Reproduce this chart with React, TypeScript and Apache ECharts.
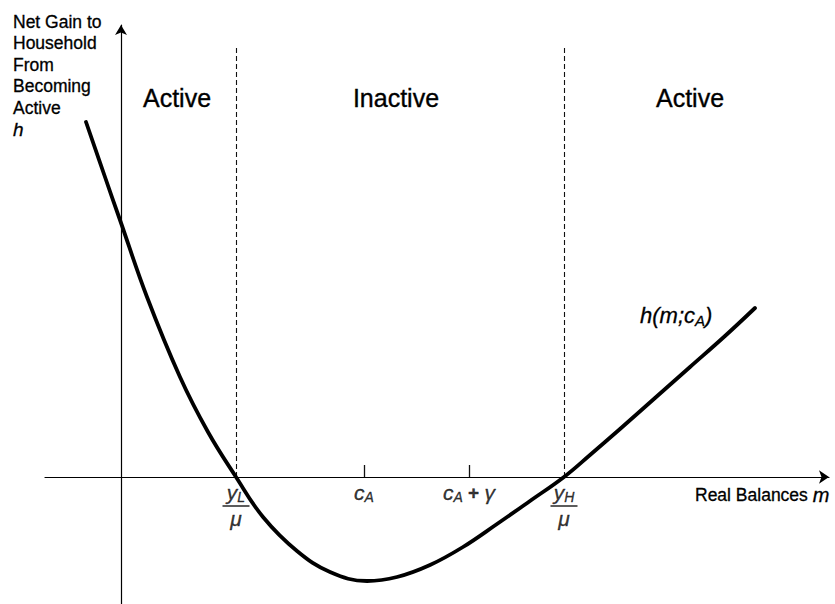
import React, { useEffect, useRef } from "react";
import * as echarts from "echarts";

// Curve h(m; c_A): real balances m vs net gain h (diagram units)
const curveM = [-3.5, -1.6, -0.1, 2.6, 5.9, 8.7, 11.5, 14.2, 17.6, 20.9, 24.6, 27.6, 30.9, 34.2, 37.6, 40.9, 44.3, 46.9, 49.9, 53.4, 56.9, 60.4, 63.4];
const curveH = [35.5, 30.0, 25.7, 18.0, 10.0, 4.5, 0, -4.0, -7.4, -9.5, -10.4, -10.0, -8.8, -7.0, -4.7, -2.4, 0, 2.2, 4.8, 7.9, 11.0, 14.1, 16.9];

// Marked points on the m axis: yL/μ, c_A, c_A+γ, yH/μ
const markerM = [11.5, 24.3, 34.8, 44.3];
const markerKind = ["boundary", "tick", "tick", "boundary"];
const markerText = [
  "{v|y}{vs|L}\n{bar|}\n{mu|μ}",
  "{v|c}{vs|A}",
  "{v|c}{vs|A}{p| + }{g|γ}",
  "{v|y}{vs|H}\n{bar|}\n{mu|μ}",
];

const regionLabels = ["Active", "Inactive", "Active"];
const yAxisTitle = ["Net Gain to", "Household", "From", "Becoming", "Active"];
const xAxisTitle = "Real Balances";

const mMin = -7.6;
const mMax = 70.8;
const hMin = -12.7;
const hMax = 45.2;
const dashTop = 42.9;
const tickH = 1.2;

const FONT = "'Liberation Sans', Arial, Helvetica, sans-serif";
const BOLDEN = { textBorderColor: "#000", textBorderWidth: 0.35 };

export default function App() {
  const ref = useRef<HTMLDivElement>(null);
  useEffect(() => {
    if (!ref.current) return;
    const chart = echarts.init(ref.current, undefined, { renderer: "svg" });

    const markLineData = markerM.map((m, i) => {
      const isB = markerKind[i] === "boundary";
      return [
        {
          coord: [m, 0],
          lineStyle: isB
            ? { type: [5, 3], color: "#111", width: 1.1 }
            : { type: "solid", color: "#111", width: 1.3 },
        },
        { coord: [m, isB ? dashTop : tickH] },
      ];
    });

    const subStyle = {
      fontFamily: FONT,
      fontStyle: "italic",
      fontSize: 14,
      color: "#000",
      verticalAlign: "bottom",
      align: "center",
      ...BOLDEN,
    };
    const mainStyle = {
      fontFamily: FONT,
      fontStyle: "italic",
      fontSize: 21,
      lineHeight: 22,
      color: "#000",
      align: "center",
      ...BOLDEN,
    };

    const gText = (x: number, y: number, text: string, size: number) => ({
      type: "text",
      x,
      y,
      style: {
        text,
        fontFamily: FONT,
        fontSize: size,
        fill: "#000",
        stroke: "#000",
        lineWidth: 0.35,
        textAlign: "center",
        textVerticalAlign: "middle",
      },
    });

    const option: any = {
      animation: false,
      backgroundColor: "#fff",
      grid: { left: 45, right: 6, top: 25, bottom: 0, containLabel: false },
      xAxis: {
        type: "value",
        min: mMin,
        max: mMax,
        axisLine: {
          show: true,
          onZero: true,
          symbol: ["none", "arrow"],
          symbolSize: [10, 10],
          lineStyle: { color: "#000", width: 1.2 },
        },
        axisTick: { show: false },
        axisLabel: { show: false },
        splitLine: { show: false },
      },
      yAxis: {
        type: "value",
        min: hMin,
        max: hMax,
        axisLine: {
          show: true,
          onZero: true,
          symbol: ["none", "arrow"],
          symbolSize: [9, 10],
          lineStyle: { color: "#000", width: 1.2 },
        },
        axisTick: { show: false },
        axisLabel: { show: false },
        splitLine: { show: false },
      },
      series: [
        {
          type: "line",
          data: curveM.map((m, i) => [m, curveH[i]]),
          smooth: 0.4,
          showSymbol: false,
          symbol: "none",
          lineStyle: { color: "#000", width: 3.8, join: "round", cap: "round" },
          silent: true,
          z: 5,
        },
        {
          type: "scatter",
          data: markerM.map((m, i) => ({
            value: [m, 0],
            label: { formatter: markerText[i] },
          })),
          symbol: "circle",
          symbolSize: 1,
          itemStyle: { color: "rgba(0,0,0,0)" },
          silent: true,
          label: {
            show: true,
            position: "bottom",
            distance: 4,
            align: "center",
            color: "#000",
            rich: {
              v: mainStyle,
              vs: subStyle,
              p: { ...mainStyle, fontStyle: "normal", fontWeight: "bold", fontSize: 19 },
              g: { ...mainStyle },
              bar: { width: 27, height: 1.6, backgroundColor: "#000", lineHeight: 5, align: "center" },
              mu: { ...mainStyle, lineHeight: 20 },
            },
          },
          markLine: {
            silent: true,
            symbol: ["none", "none"],
            label: { show: false },
            data: markLineData,
          },
          z: 3,
        },
      ],
      graphic: [
        {
          type: "text",
          x: 13,
          y: 11,
          style: {
            text: yAxisTitle.join("\n") + "\n{i|h}",
            fontFamily: FONT,
            fontSize: 17.5,
            lineHeight: 21.5,
            fill: "#000",
            stroke: "#000",
            lineWidth: 0.3,
            textVerticalAlign: "top",
            rich: {
              i: { fontFamily: FONT, fontSize: 19, fontStyle: "italic", lineHeight: 21.5 },
            },
          },
        },
        gText(177, 98, regionLabels[0], 25),
        gText(396, 98, regionLabels[1], 25),
        gText(690, 98, regionLabels[2], 25),
        {
          type: "text",
          x: 640,
          y: 315,
          style: {
            text: "{i|h(m;c}{s|A}{i|)}",
            fill: "#000",
            stroke: "#000",
            lineWidth: 0.3,
            textVerticalAlign: "middle",
            rich: {
              i: { fontFamily: FONT, fontSize: 22, fontStyle: "italic", lineHeight: 26 },
              s: { fontFamily: FONT, fontSize: 15, fontStyle: "italic", verticalAlign: "bottom", lineHeight: 26 },
            },
          },
        },
        {
          type: "text",
          x: 695,
          y: 495,
          style: {
            text: xAxisTitle + " {i|m}",
            fontFamily: FONT,
            fontSize: 17.5,
            fill: "#000",
            stroke: "#000",
            lineWidth: 0.3,
            textVerticalAlign: "middle",
            rich: {
              i: { fontFamily: FONT, fontSize: 20, fontStyle: "italic" },
            },
          },
        },
      ],
    };

    chart.setOption(option);
    return () => chart.dispose();
  }, []);

  return (
    <div
      ref={ref}
      style={{ position: "absolute", left: 0, top: 0, width: 835, height: 604, background: "#fff" }}
    />
  );
}
